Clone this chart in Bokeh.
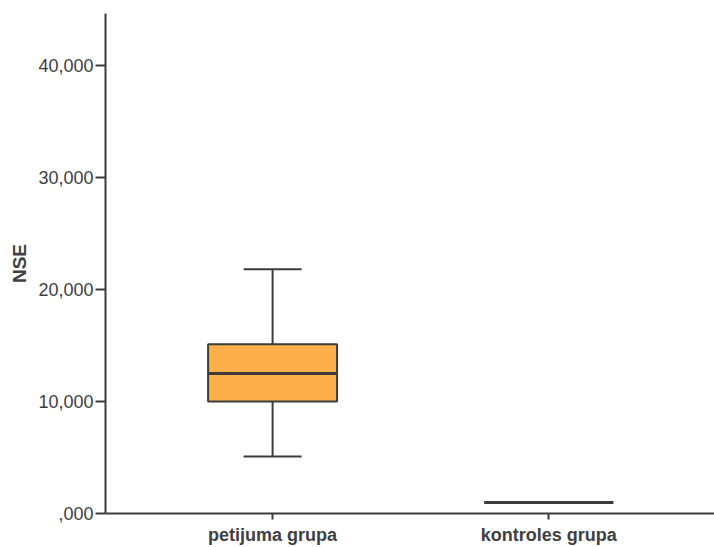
from bokeh.plotting import figure
from bokeh.models import ColumnDataSource, FixedTicker, Range1d
from bokeh.embed import file_html
from bokeh.resources import INLINE

# Data
groups = ["petijuma grupa", "kontroles grupa"]
positions = [1, 2]
lower = [5100, 980]
q1 = [10000, 980]
median = [12500, 980]
q3 = [15100, 980]
upper = [21800, 980]
y_ticks = [0, 10000, 20000, 30000, 40000]
y_tick_labels = [",000", "10,000", "20,000", "30,000", "40,000"]

box_w = 0.467
cap_w = 0.21

src = ColumnDataSource(dict(
    x=positions, lower=lower, q1=q1, median=median, q3=q3, upper=upper,
    left=[p - box_w / 2 for p in positions],
    right=[p + box_w / 2 for p in positions],
    cl=[p - cap_w / 2 for p in positions],
    cr=[p + cap_w / 2 for p in positions],
))

TEXT = "#404040"
LINE = "#3c3c3c"

p = figure(width=714, height=547, output_backend="svg", toolbar_location=None,
           x_range=Range1d(0.395, 2.6), y_range=Range1d(0, 44640),
           min_border_left=105, min_border_right=0, min_border_top=13, min_border_bottom=34)
p.outline_line_color = None
p.grid.visible = False
p.background_fill_color = "white"
p.border_fill_color = "white"

# whiskers
p.segment(x0="x", y0="q3", x1="x", y1="upper", source=src, line_color=LINE, line_width=2)
p.segment(x0="x", y0="q1", x1="x", y1="lower", source=src, line_color=LINE, line_width=2)
p.segment(x0="cl", y0="upper", x1="cr", y1="upper", source=src, line_color=LINE, line_width=2)
p.segment(x0="cl", y0="lower", x1="cr", y1="lower", source=src, line_color=LINE, line_width=2)
# boxes
p.quad(left="left", right="right", bottom="q1", top="q3", source=src,
       fill_color="#FDB04A", line_color=LINE, line_width=2)
# median
p.segment(x0="left", y0="median", x1="right", y1="median", source=src, line_color=LINE, line_width=3)

# axes
xa = p.xaxis[0]
xa.ticker = FixedTicker(ticks=positions)
xa.major_label_overrides = {pos: g for pos, g in zip(positions, groups)}
xa.minor_tick_line_color = None
xa.major_tick_in = 0
xa.major_tick_out = 6
xa.major_label_standoff = 5
xa.axis_line_width = 2
xa.axis_line_color = LINE
xa.major_tick_line_color = LINE
xa.major_tick_line_width = 2
xa.major_label_text_font = "Liberation Sans"
xa.major_label_text_font_style = "bold"
xa.major_label_text_font_size = "18px"
xa.major_label_text_color = TEXT

ya = p.yaxis[0]
ya.ticker = FixedTicker(ticks=y_ticks)
ya.major_label_overrides = {t: l for t, l in zip(y_ticks, y_tick_labels)}
ya.minor_tick_line_color = None
ya.major_tick_in = 0
ya.major_tick_out = 10
ya.major_label_standoff = 2
ya.axis_line_width = 2
ya.axis_line_color = LINE
ya.major_tick_line_color = LINE
ya.major_tick_line_width = 2
ya.major_label_text_font = "Liberation Sans"
ya.major_label_text_font_size = "18px"
ya.major_label_text_color = TEXT
ya.axis_label = "NSE"
ya.axis_label_text_font = "Liberation Sans"
ya.axis_label_text_font_style = "bold"
ya.axis_label_text_font_size = "19px"
ya.axis_label_text_color = TEXT
ya.axis_label_standoff = 5

open("out.html", "w").write(file_html(p, INLINE))
